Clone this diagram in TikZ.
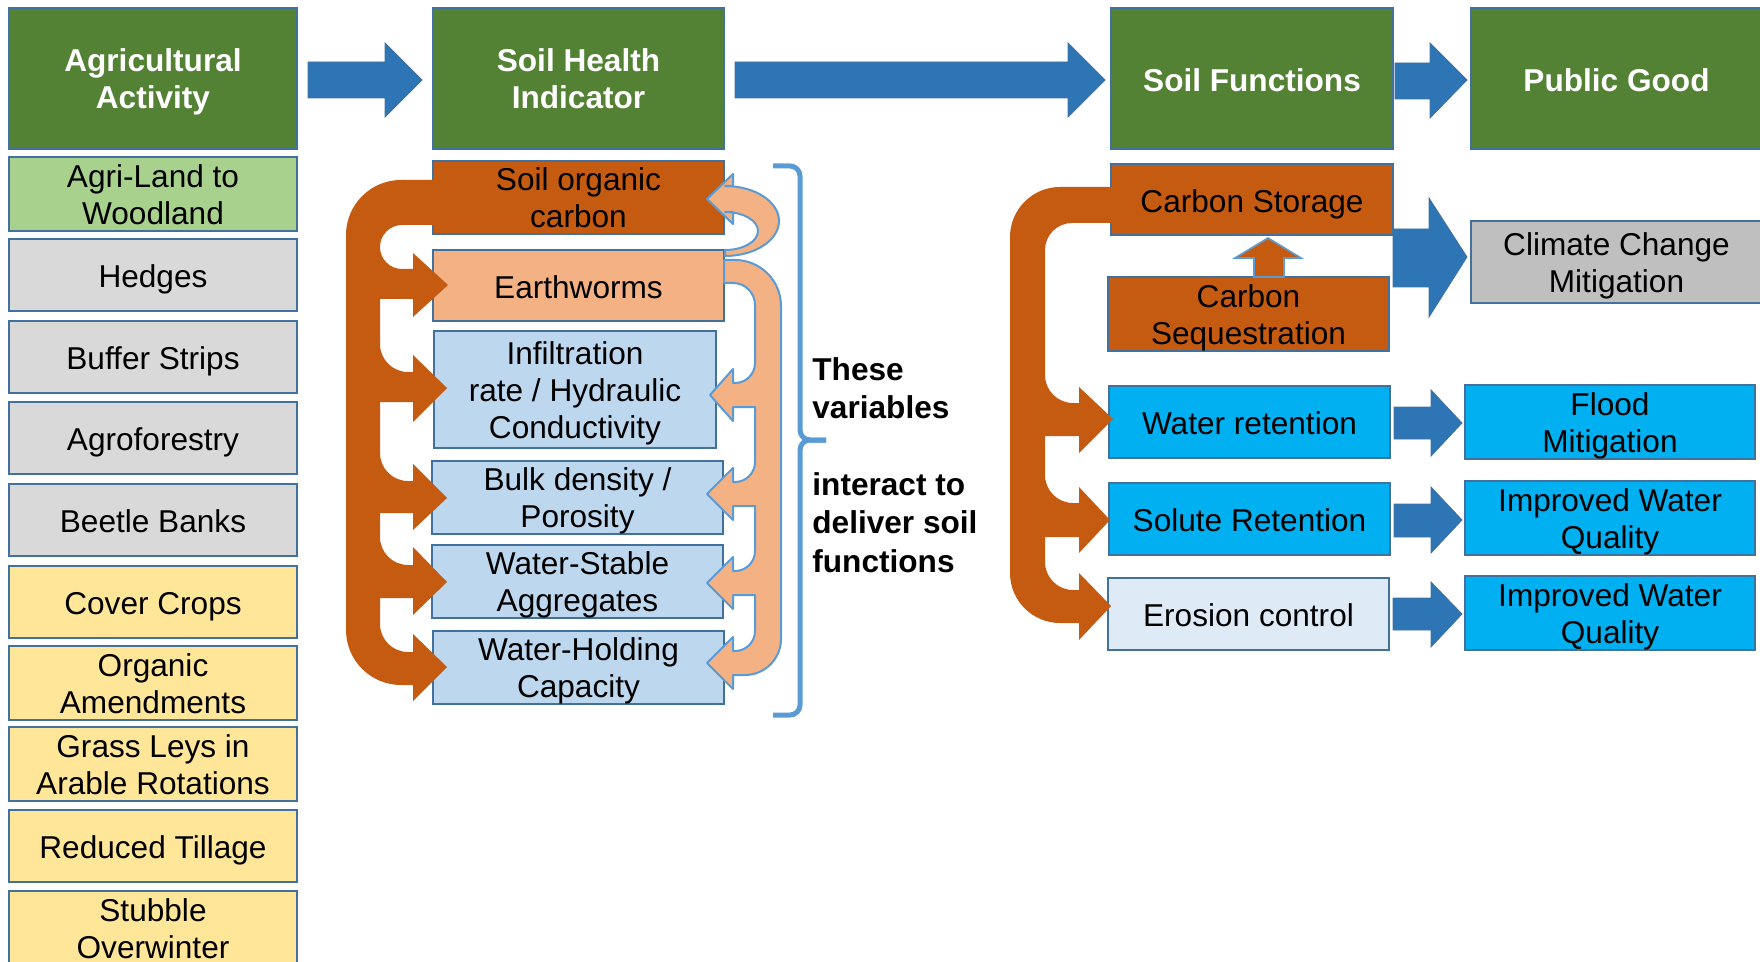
\documentclass[tikz,border=0pt]{standalone}
\usepackage{fontspec}
\setmainfont{Liberation Sans}
\definecolor{hgreen}{HTML}{548235}
\definecolor{bord}{HTML}{41719C}
\definecolor{agreen}{HTML}{A9D18E}
\definecolor{lgrey}{HTML}{D9D9D9}
\definecolor{lyellow}{HTML}{FFE699}
\definecolor{corange}{HTML}{C55A11}
\definecolor{lorange}{HTML}{F4B183}
\definecolor{lblue}{HTML}{BDD7EE}
\definecolor{cyanb}{HTML}{00B0F0}
\definecolor{paleb}{HTML}{DEEBF7}
\definecolor{mgrey}{HTML}{BFBFBF}
\definecolor{arrblue}{HTML}{2E75B6}
\definecolor{brblue}{HTML}{5B9BD5}
\newcommand{\pstrutA}{\rule[-0.212em]{0pt}{1.222em}}
\newcommand{\pstrutE}{\rule[-0.212em]{0pt}{1.117em}}
\newcommand{\blockarr}[8]{%
  \filldraw[bluearr] (#1,#4) -- (#2,#4) -- (#2,#6) -- (#3,#8) -- (#2,#7) -- (#2,#5) -- (#1,#5) -- cycle;}
\begin{document}
\begin{tikzpicture}[x=0.5pt,y=-0.5pt,
  every node/.style={font=\fontsize{15.8}{18.5}\selectfont},
  box/.style={draw=bord, line width=1pt, inner sep=0pt, outer sep=0pt, align=center, text=black,
    execute at begin node=\pstrutA, execute at end node=\pstrutE},
  ml/.style={execute at begin node={\rule{0pt}{33.4pt}}},
  mlthree/.style={execute at begin node={\rule{0pt}{51.9pt}}},
  hdr/.style={box, fill=hgreen, text=white, font=\fontsize{15.8}{18.5}\selectfont\bfseries, minimum height=70.5pt},
  leftbox/.style={box, minimum width=144pt, minimum height=36pt},
  midbox/.style={box, minimum width=145.5pt, minimum height=35.5pt},
  rbox/.style={box, minimum width=140.5pt, minimum height=36pt},
  pbox/.style={box, minimum width=145pt, minimum height=36pt},
  bluearr/.style={fill=arrblue, draw=bord, line width=0.4pt},
  curly/.style={draw=brblue, line width=2.5pt, rounded corners=5pt},
  lloop/.style={fill=lorange, draw=brblue, line width=1pt, line join=round},
  note/.style={font=\fontsize{15.8}{18.5}\selectfont\bfseries, anchor=base west, inner sep=0pt}]
\useasboundingbox (0,0) rectangle (1760,962);
\clip (0,0) rectangle (1760,962);

% headers
\node[hdr, ml, minimum width=144pt] (agri) at (153,78.5) {Agricultural\\Activity};
\node[hdr, ml, minimum width=145.5pt] (shi) at (578.5,78.5) {Soil Health\\Indicator};
\node[hdr, minimum width=141pt] (sf) at (1252,78.5) {Soil Functions};
\node[hdr, minimum width=145.5pt] (pg) at (1616.5,78.5) {Public Good};

% left column
\node[leftbox, ml, fill=agreen] (a1) at (153,194) {Agri-Land to\\Woodland};
\node[leftbox, fill=lgrey] (a2) at (153,275) {Hedges};
\node[leftbox, fill=lgrey] (a3) at (153,357) {Buffer Strips};
\node[leftbox, fill=lgrey] (a4) at (153,438) {Agroforestry};
\node[leftbox, fill=lgrey] (a5) at (153,520) {Beetle Banks};
\node[leftbox, fill=lyellow] (a6) at (153,602) {Cover Crops};
\node[leftbox, ml, fill=lyellow] (a7) at (153,683) {Organic\\Amendments};
\node[leftbox, ml, fill=lyellow] (a8) at (153,764) {Grass Leys in\\Arable Rotations};
\node[leftbox, fill=lyellow] (a9) at (153,846) {Reduced Tillage};
\node[leftbox, ml, fill=lyellow] (a10) at (153,928) {Stubble\\Overwinter};

% middle column
\node[midbox, ml, fill=corange] (soc) at (578.5,197.5) {Soil organic\\carbon};
\node[midbox, fill=lorange] (ew) at (578.5,285.5) {Earthworms};
\node[box, mlthree, fill=lblue, minimum width=141pt, minimum height=58.5pt] (inf) at (575,389.5) {Infiltration\\rate / Hydraulic\\Conductivity};
\node[midbox, ml, fill=lblue] (bulk) at (577.5,497.5) {Bulk density /\\Porosity};
\node[midbox, ml, fill=lblue] (wsa) at (577.5,581.5) {Water-Stable\\Aggregates};
\node[midbox, ml, fill=lblue] (whc) at (578.5,667.5) {Water-Holding\\Capacity};

% right columns
\node[box, fill=corange, minimum width=141pt, minimum height=35.5pt] (cs) at (1252,199.5) {Carbon Storage};
\node[rbox, ml, fill=corange] (cseq) at (1248.5,314) {Carbon\\Sequestration};
\node[box, ml, fill=mgrey, minimum width=145.5pt, minimum height=41pt] (ccm) at (1616.5,262) {Climate Change\\Mitigation};
\node[rbox, fill=cyanb] (wr) at (1249.5,422) {Water retention};
\node[pbox, ml, fill=cyanb] (fm) at (1610,422) {Flood\\Mitigation};
\node[rbox, fill=cyanb] (sr) at (1249.5,519) {Solute Retention};
\node[pbox, ml, fill=cyanb] (iwq1) at (1610,518) {Improved Water\\Quality};
\node[rbox, fill=paleb] (ec) at (1248.5,614) {Erosion control};
\node[pbox, ml, fill=cyanb] (iwq2) at (1610,613) {Improved Water\\Quality};

% blue block arrows
\blockarr{308}{385}{422}{62}{98}{43}{117}{80}
\blockarr{735}{1068}{1105}{62}{98}{43}{117}{80}
\blockarr{1395}{1430}{1467}{63}{99}{43}{118}{80}
\blockarr{1393}{1429}{1467}{229}{287}{198}{317}{257}
\blockarr{1394}{1431}{1462}{407}{439}{390}{456}{423}
\blockarr{1394}{1431}{1462}{504}{537}{487}{553}{520}
\blockarr{1393}{1431}{1462}{598}{630}{582}{647}{614}

% small up arrow: sequestration -> storage
\filldraw[fill=corange, draw=brblue, line width=0.8pt] (1254,277) -- (1254,258) -- (1235,258) -- (1268,238) -- (1301,258) -- (1284,258) -- (1284,277) -- cycle;

% left dark orange loop
\fill[corange] (437,180) -- (401,180) arc[start angle=90,end angle=180,radius=27.5pt]
  -- (346,630) arc[start angle=180,end angle=270,radius=27.5pt]
  -- (413,685) -- (413,701) -- (447,667) -- (413,634) -- (413,652)
  -- (408,652) arc[start angle=270,end angle=180,radius=14pt]
  -- (380,598) -- (413,598) -- (413,615) -- (447,582) -- (413,547) -- (413,565)
  -- (408,565) arc[start angle=270,end angle=180,radius=14pt]
  -- (380,513) -- (413,513) -- (413,530) -- (447,498) -- (413,464) -- (413,481)
  -- (408,481) arc[start angle=270,end angle=180,radius=14pt]
  -- (380,402) -- (413,402) -- (413,422) -- (447,388) -- (413,355) -- (413,372)
  -- (408,372) arc[start angle=270,end angle=180,radius=14pt]
  -- (380,299) -- (413,299) -- (413,317) -- (448,285) -- (413,253) -- (413,269)
  -- (402,269) arc[start angle=270,end angle=90,radius=11pt]
  -- (437,225) -- cycle;

% right dark orange loop
\fill[corange] (1114,187) -- (1060,187) arc[start angle=90,end angle=180,radius=25pt]
  -- (1010,573) arc[start angle=180,end angle=270,radius=25pt]
  -- (1079,623) -- (1079,640) -- (1111,606) -- (1079,573) -- (1079,590)
  -- (1073,590) arc[start angle=270,end angle=180,radius=14pt]
  -- (1045,537) -- (1079,537) -- (1079,553) -- (1110,520) -- (1079,487) -- (1079,503)
  -- (1073,503) arc[start angle=270,end angle=180,radius=14pt]
  -- (1045,436) -- (1079,436) -- (1079,453) -- (1113,419) -- (1079,387) -- (1079,403)
  -- (1073,403) arc[start angle=270,end angle=180,radius=14pt]
  -- (1045,250) arc[start angle=180,end angle=90,radius=13.5pt]
  -- (1114,223) -- cycle;

% light orange loop: earthworms -> soil organic carbon
\filldraw[lloop] (733,186) -- (725,186) arc[start angle=90,end angle=-90,x radius=27pt,y radius=17.5pt]
  -- (725,250) arc[start angle=-90,end angle=90,x radius=16.5pt,y radius=9.5pt]
  -- (733,212) -- (733,224) -- (707,199) -- (733,174) -- cycle;

% light orange loop: earthworms -> other indicators
\filldraw[lloop] (724,260) -- (735,260) arc[start angle=90,end angle=0,radius=23pt]
  -- (781,639) arc[start angle=0,end angle=-90,radius=18pt]
  -- (733,675) -- (733,689) -- (707,663) -- (733,637) -- (733,651)
  -- (735,651) arc[start angle=270,end angle=360,radius=10pt]
  -- (755,595) -- (733,595) -- (733,609) -- (707,583) -- (733,557) -- (733,571)
  -- (735,571) arc[start angle=270,end angle=360,radius=10pt]
  -- (755,506) -- (733,506) -- (733,520) -- (707,494) -- (733,468) -- (733,482)
  -- (735,482) arc[start angle=270,end angle=360,radius=10pt]
  -- (755,407) -- (733,407) -- (733,421) -- (710,395) -- (733,369) -- (733,383)
  -- (735,383) arc[start angle=270,end angle=360,radius=10pt]
  -- (755,305) arc[start angle=0,end angle=90,radius=11pt]
  -- (724,283) -- cycle;

% curly bracket
\coordinate (brtop) at (773,166);
\coordinate (brmid) at (826,440);
\coordinate (brbot) at (773,715);
\draw[curly] (brtop) -- (800,166) -- (800,440) -- (brmid);
\draw[curly] (brmid) -- (800,440) -- (800,715) -- (brbot);

% note text
\node[note] (t1) at (812,380) {These};
\node[note] (t2) at (812,418) {variables};
\node[note] (t3) at (812,495) {interact to};
\node[note] (t4) at (812,533) {deliver soil};
\node[note] (t5) at (812,572) {functions};
\end{tikzpicture}
\end{document}
